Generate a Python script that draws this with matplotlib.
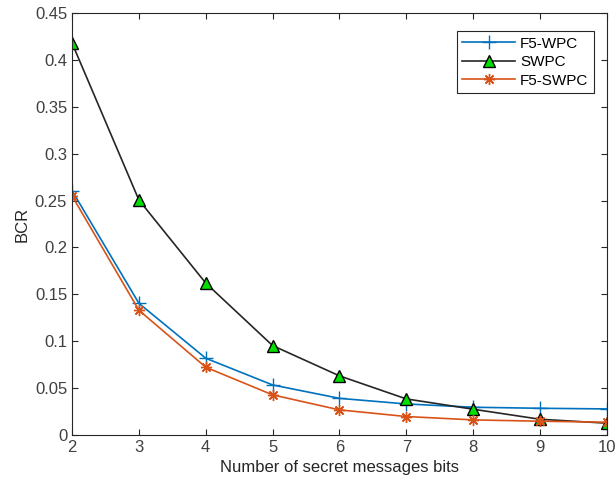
import matplotlib
matplotlib.use("Agg")
import matplotlib.pyplot as plt

plt.rcParams['font.family'] = ['Liberation Sans', 'DejaVu Sans']

bits = [2, 3, 4, 5, 6, 7, 8, 9, 10]
f5_wpc = [0.2605, 0.1404, 0.0818, 0.0533, 0.0390, 0.0330, 0.0295, 0.0284, 0.0277]
swpc = [0.418, 0.2506, 0.162, 0.0953, 0.063, 0.0384, 0.0274, 0.0167, 0.0125]
f5_swpc = [0.255, 0.133, 0.0722, 0.0427, 0.0267, 0.0196, 0.0160, 0.0146, 0.0135]
yticks = [0, 0.05, 0.1, 0.15, 0.2, 0.25, 0.3, 0.35, 0.4, 0.45]
ytick_labels = ['0', '0.05', '0.1', '0.15', '0.2', '0.25', '0.3', '0.35', '0.4', '0.45']

fig = plt.figure(figsize=(6.16, 4.87), dpi=100)
ax = fig.add_axes([0.117, 0.107, 0.868, 0.866])

ax.plot(bits, f5_wpc, color='#0072BD', lw=1.2, marker='+', ms=10, mew=1.0, label='F5-WPC')
ax.plot(bits, swpc, color='#262626', lw=1.2, marker='^', ms=8, mfc='#00E000', mec='black', mew=1.0, label='SWPC')
ax.plot(bits, f5_swpc, color='#D95319', lw=1.2, marker=(8, 2, 0), ms=8, mew=1.0, label='F5-SWPC')

ax.set_xlim(2, 10)
ax.set_ylim(0, 0.45)
ax.set_xticks(bits)
ax.set_yticks(yticks)
ax.set_yticklabels(ytick_labels)
ax.tick_params(direction='in', top=True, right=True, colors='#262626', labelsize=12, length=4)
for lbl in ax.get_xticklabels() + ax.get_yticklabels():
    lbl.set_color('#404040')
for s in ax.spines.values():
    s.set_color('#262626')
    s.set_linewidth(0.8)
ax.set_xlabel('Number of secret messages bits', fontsize=12, color='#262626')
ax.set_ylabel('BCR', fontsize=12, color='#262626')

leg = ax.legend(loc='upper right', bbox_to_anchor=(0.99, 0.975), fontsize=11, fancybox=False,
                edgecolor='#262626', framealpha=1, handlelength=3.5, borderpad=0.35, labelspacing=0.3,
                handletextpad=0.3)
leg.get_frame().set_linewidth(0.8)

fig.savefig('out.png', dpi=100)
